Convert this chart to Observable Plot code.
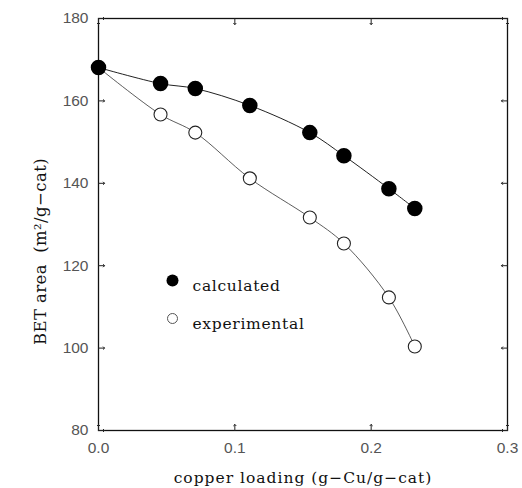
<!DOCTYPE html>
<html>
<head>
<meta charset="utf-8">
<script src="https://cdn.jsdelivr.net/npm/d3@7"></script>
<script src="https://cdn.jsdelivr.net/npm/@observablehq/plot@0.6"></script>
<style>
  html, body { margin: 0; padding: 0; background: #fff; }
  #chart svg { display: block; }
</style>
</head>
<body>
<div id="chart"></div>
<script>
// Data
const loading = [0.0, 0.0455, 0.071, 0.111, 0.155, 0.180, 0.213, 0.232];
const calculated = [168.1, 164.2, 163.0, 158.9, 152.3, 146.7, 138.7, 133.9];
const experimental = [168.1, 156.7, 152.3, 141.2, 131.7, 125.4, 112.3, 100.4];
const xTicks = [0.0, 0.1, 0.2, 0.3];
const yTicks = [80, 100, 120, 140, 160, 180];
const seriesNames = ["calculated", "experimental"];
const xTitle = "copper loading (g\u2212Cu/g\u2212cat)";
const yTitle = "BET area  (m\u00B2/g\u2212cat)";

const calcData = loading.map((x, i) => ({x, y: calculated[i]}));
const expData = loading.map((x, i) => ({x, y: experimental[i]}));

const serif = "DejaVu Serif, serif";
const sans = "Liberation Sans, Arial, sans-serif";

const chart = Plot.plot({
  width: 522,
  height: 488,
  marginLeft: 98,
  marginRight: 15,
  marginTop: 18,
  marginBottom: 58,
  style: {fontFamily: sans, fontSize: "15px", background: "#fff", color: "#000"},
  x: {domain: [0, 0.3]},
  y: {domain: [80, 180]},
  marks: [
    Plot.frame({stroke: "#111", strokeWidth: 1.3}),
    // tick labels
    Plot.axisX(xTicks, {anchor: "bottom", tickSize: 0, tickPadding: 11, tickFormat: d3.format(".1f"),
      fill: "#555", fontSize: 15.5, fontFamily: sans, label: null}),
    Plot.axisY(yTicks, {anchor: "left", tickSize: 0, tickPadding: 10, tickFormat: d3.format("d"),
      fill: "#555", fontSize: 15.5, fontFamily: sans, label: null}),
    // inward tick marks
    Plot.vector(xTicks, {x: d => d, frameAnchor: "bottom", length: 6, rotate: 0, anchor: "start", stroke: "#222", strokeWidth: 1}),
    Plot.vector(xTicks, {x: d => d, frameAnchor: "top", length: 6, rotate: 180, anchor: "start", stroke: "#222", strokeWidth: 1}),
    Plot.vector(yTicks, {y: d => d, frameAnchor: "left", length: 6, rotate: 90, anchor: "start", stroke: "#222", strokeWidth: 1}),
    Plot.vector(yTicks, {y: d => d, frameAnchor: "right", length: 6, rotate: -90, anchor: "start", stroke: "#222", strokeWidth: 1}),
    // axis titles
    Plot.text([xTitle], {frameAnchor: "bottom", dy: 52, text: d => d,
      fontFamily: serif, fontSize: 15.5, fill: "#111"}),
    Plot.text([yTitle], {frameAnchor: "left", textAnchor: "middle", dx: -58, dy: 27, rotate: -90, text: d => d,
      fontFamily: serif, fontSize: 16.5, fill: "#111"}),
    // series lines
    Plot.line(calcData, {x: "x", y: "y", stroke: "#222", strokeWidth: 1, curve: "catmull-rom"}),
    Plot.line(expData, {x: "x", y: "y", stroke: "#333", strokeWidth: 0.8, curve: "catmull-rom"}),
    // points
    Plot.dot(expData, {x: "x", y: "y", r: 6.5, fill: "#fff", stroke: "#222", strokeWidth: 1.1}),
    Plot.dot(calcData, {x: "x", y: "y", r: 7, fill: "#000", stroke: "#000"}),
    // legend
    Plot.dot([seriesNames[0]], {frameAnchor: "top-left", dx: 74, dy: 262, r: 6, fill: "#000"}),
    Plot.text([seriesNames[0]], {frameAnchor: "top-left", dx: 94, dy: 261, text: d => d, textAnchor: "start",
      fontFamily: serif, fontSize: 15.5, fill: "#111"}),
    Plot.dot([seriesNames[1]], {frameAnchor: "top-left", dx: 74, dy: 300, r: 5, fill: "none", stroke: "#555", strokeWidth: 1}),
    Plot.text([seriesNames[1]], {frameAnchor: "top-left", dx: 94, dy: 299, text: d => d, textAnchor: "start",
      fontFamily: serif, fontSize: 15.5, fill: "#111"})
  ]
});
// letter spacing for the typewriter-like serif texts
d3.select(chart).selectAll("text").each(function() {
  const t = this.textContent;
  if (t === xTitle) this.style.letterSpacing = "1px";
  else if (t === yTitle) this.style.letterSpacing = "0.4px";
  else if (seriesNames.includes(t)) this.style.letterSpacing = "0.7px";
});
document.getElementById("chart").append(chart);
</script>
</body>
</html>
